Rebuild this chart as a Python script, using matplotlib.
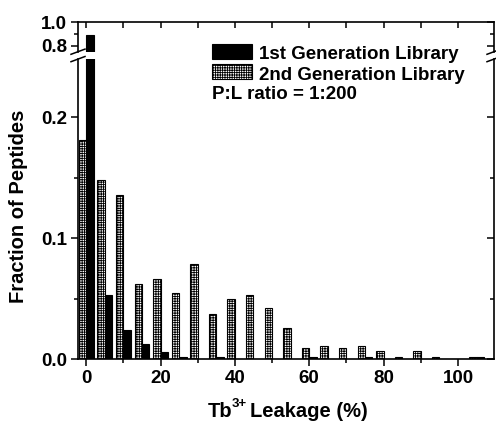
import matplotlib.pyplot as plt
import numpy as np
from matplotlib.lines import Line2D
from matplotlib.patches import Rectangle

plt.rcParams['font.family'] = ['Liberation Sans', 'DejaVu Sans']
plt.rcParams['font.weight'] = 'bold'
plt.rcParams['hatch.linewidth'] = 0.6

# Dados (fração de peptídeos por faixa de vazamento)
vazamento = [0, 5, 10, 15, 20, 25, 30, 35, 40, 45, 50, 55, 60, 65, 70, 75, 80, 85, 90, 95, 100, 105]
geracao_1 = [0.895, 0.053, 0.024, 0.013, 0.006, 0.002, 0.0, 0.002, 0.0, 0.0, 0.0,
             0.0, 0.002, 0.0, 0.0, 0.002, 0.0, 0.0, 0.0, 0.0, 0.0, 0.002]
geracao_2 = [0.181, 0.148, 0.136, 0.062, 0.066, 0.055, 0.079, 0.037, 0.050, 0.053, 0.042,
             0.026, 0.009, 0.011, 0.009, 0.011, 0.007, 0.002, 0.007, 0.002, 0.0, 0.002]
rotulos = ['1st Generation Library', '2nd Generation Library']
x_ticks = [0, 20, 40, 60, 80, 100]

W, H = 496, 423
fig = plt.figure(figsize=(W / 100, H / 100), dpi=100)

def fx(px):
    return px / W

def fy(py):
    return 1 - py / H

esq, dir_ = 78, 494
ax_cima = fig.add_axes([fx(esq), fy(52), fx(dir_ - esq), fy(22.3) - fy(52)])
ax_baixo = fig.add_axes([fx(esq), fy(359.3), fx(dir_ - esq), fy(59) - fy(359.3)])

HATCH = '+++++++'
x = np.array(vazamento)
for ax in (ax_cima, ax_baixo):
    ax.bar(x - 1, geracao_2, width=2, facecolor='white', edgecolor='black',
           hatch=HATCH, linewidth=0.8)
    ax.bar(x + 1, geracao_1, width=2, color='black', edgecolor='black', linewidth=0.8)
    ax.set_xlim(-2.2, 109.7)
    for s in ax.spines.values():
        s.set_linewidth(1.2)
    ax.tick_params(axis='both', which='both', labelsize=13.5, width=1.1, direction='out')
    ax.tick_params(axis='both', which='major', length=5)
    ax.tick_params(axis='both', which='minor', length=3)
    ax.tick_params(axis='x', pad=3)
    ax.tick_params(axis='y', pad=3)
    ax.set_xticks(x_ticks)
    ax.set_xticks([10, 30, 50, 70, 90], minor=True)
    # ticks do lado direito para dentro
    dy = ax.secondary_yaxis('right')
    dy.spines['right'].set_visible(False)
    dy.tick_params(axis='y', which='both', direction='in', labelright=False, width=1.1)
    dy.tick_params(axis='y', which='major', length=5)
    dy.tick_params(axis='y', which='minor', length=3)
    ax.dy = dy

# eixo superior (parte quebrada)
ax_cima.set_ylim(0.746, 1.0)
ax_cima.set_yticks([0.8, 1.0])
ax_cima.set_yticklabels(['0.8', '1.0'])
ax_cima.set_yticks([0.9], minor=True)
ax_cima.dy.set_yticks([0.8, 1.0])
ax_cima.dy.set_yticks([0.9], minor=True)
ax_cima.spines['bottom'].set_visible(False)
ax_cima.tick_params(axis='x', which='both', bottom=False, labelbottom=False)
topo = ax_cima.secondary_xaxis('top')
topo.spines['top'].set_visible(False)
topo.set_xticks(x_ticks)
topo.set_xticks([10, 30, 50, 70, 90], minor=True)
topo.tick_params(axis='x', which='both', direction='in', length=4, width=1.1, labeltop=False)

# eixo inferior
ax_baixo.set_ylim(0, 0.248)
ax_baixo.set_yticks([0.0, 0.1, 0.2])
ax_baixo.set_yticklabels(['0.0', '0.1', '0.2'])
ax_baixo.set_yticks([0.05, 0.15], minor=True)
ax_baixo.dy.set_yticks([0.0, 0.1, 0.2])
ax_baixo.dy.set_yticks([0.05, 0.15], minor=True)
ax_baixo.spines['top'].set_visible(False)

# marcas de quebra
for xp in (esq, dir_):
    for yp in (54.3, 61.7):
        fig.add_artist(Line2D([fx(xp - 7), fx(xp + 7)], [fy(yp), fy(yp - 5.2)],
                              color='black', linewidth=1.1))

# rótulos dos eixos
fig.text(fx(18.5), fy(206), 'Fraction of Peptides', rotation=90, fontsize=14.5,
         ha='center', va='center')
r = fig.canvas.get_renderer()
t1 = fig.text(fx(208), fy(417), 'Tb', fontsize=14.5, ha='left', va='baseline')
bb = t1.get_window_extent(r)
t2 = fig.text((bb.x1 - 1) / W, fy(407), '3+', fontsize=9.5, ha='left', va='baseline')
bb2 = t2.get_window_extent(r)
fig.text((bb2.x1 + 3) / W, fy(417), 'Leakage (%)', fontsize=14.5, ha='left', va='baseline')

# legenda manual
caixas = [dict(facecolor='black', edgecolor='black'),
          dict(facecolor='white', edgecolor='black', hatch=HATCH)]
linhas_base = [59, 79.5]
for estilo, rot, yb in zip(caixas, rotulos, linhas_base):
    fig.add_artist(Rectangle((fx(212), fy(yb)), fx(40), fy(yb - 15) - fy(yb),
                             transform=fig.transFigure, linewidth=0.8, **estilo))
    fig.text(fx(259), fy(yb), rot, fontsize=13.5, ha='left', va='baseline')
fig.text(fx(212), fy(99), 'P:L ratio = 1:200', fontsize=13.5, ha='left', va='baseline')

plt.savefig('out.png', dpi=100)
